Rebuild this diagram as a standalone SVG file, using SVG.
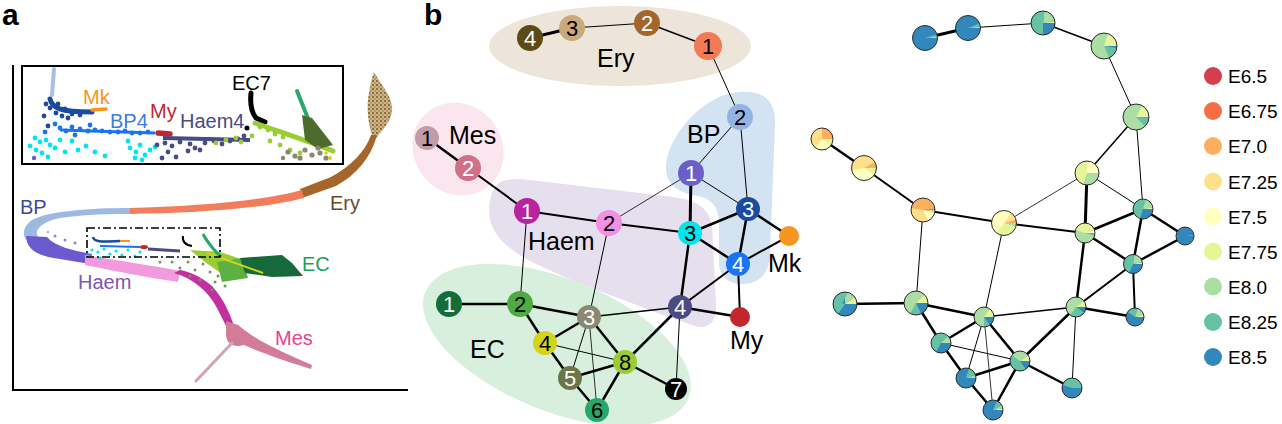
<svg xmlns="http://www.w3.org/2000/svg" width="1282" height="424" viewBox="0 0 1282 424">
<defs>
<style>
text{font-family:"Liberation Sans",Arial,sans-serif}
.pl{font-size:30px;font-weight:bold;fill:#000}
.al{font-size:20px}
.bl{font-size:25px;fill:#000}
.nt{font-size:22px;text-anchor:middle}
.wt{fill:#fff}
.bk{fill:#000}
.lg{font-size:19px;fill:#000}
.w{fill:none}
.ol{fill:none;stroke:#2a2a2a;stroke-width:1}
.s675{stroke:#f46d43}.s70{stroke:#fdae61}.s725{stroke:#fee08b}.s75{stroke:#ffffbf}.s775{stroke:#e6f598}.s80{stroke:#abdda4}.s825{stroke:#66c2a5}.s85{stroke:#3288bd}
.f65{fill:#d53e4f}.f675{fill:#f46d43}.f70{fill:#fdae61}.f725{fill:#fee08b}.f75{fill:#ffffbf}.f775{fill:#e6f598}.f80{fill:#abdda4}.f825{fill:#66c2a5}.f85{fill:#3288bd}
.edges line{stroke:#000;stroke-linecap:round}
</style>
<pattern id="speck" width="4" height="4" patternUnits="userSpaceOnUse">
<rect width="4" height="4" fill="#d2b587"/>
<circle cx="1" cy="1" r="1" fill="#6b5a2e"/>
<circle cx="3" cy="3" r="0.7" fill="#7a6634"/>
</pattern>
</defs>
<rect width="1282" height="424" fill="#fff"/>

<!-- ===== Panel a ===== -->
<g id="panel-a">
<text class="pl" x="2" y="25">a</text>
<line x1="13" y1="65" x2="13" y2="391" stroke="#000" stroke-width="2"/>
<line x1="12" y1="390" x2="408" y2="390" stroke="#000" stroke-width="2"/>
<!-- Ery leaf -->
<path d="M374,72 C381,85 394,98 392,112 C390,124 380,132 374,141 C368,126 366,106 369,93 C370,85 372,78 374,72 Z" fill="url(#speck)"/>
<!-- brown band -->
<path d="M377,135 L371,135 C365,152 351,166 331,177 L300,189 L302,198 L336,186 C356,175 371,158 377,135 Z" fill="#a6662b"/>
<!-- orange band -->
<path d="M302,190 C262,201 200,206 128,208 L128,214 C200,213 266,208 304,198 Z" fill="#f27d5d"/>
<!-- light blue arc -->
<path d="M130,208 C90,208 48,211 32,220 C22,227 22,237 28,241 L40,239 C33,233 37,223 60,218 C88,214 110,214 130,214 Z" fill="#9db9e2"/>
<!-- purple lower band -->
<path d="M26,236 C27,250 37,256 60,259 L90,264 L92,254 C70,250 55,246 47,237 Z" fill="#6a5acd"/>
<circle cx="55" cy="236" r="1.5" fill="#8f86d8"/><circle cx="65" cy="240" r="1.5" fill="#8f86d8"/><circle cx="75" cy="243" r="1.5" fill="#8f86d8"/><circle cx="48" cy="232" r="1.2" fill="#b0a8e0"/>
<!-- Haem pink -->
<path d="M85,255 C120,261 150,265 180,271 L178,282 C150,278 115,271 85,265 Z" fill="#f29ade"/>
<!-- magenta -->
<path d="M174,273 C194,279 208,291 217,308 C223,320 228,329 230,335 L236,333 C232,318 225,300 212,286 C200,276 190,272 180,270 Z" fill="#c2309f"/>
<!-- Mes -->
<path d="M226,321 L238,325 C255,340 282,352 312,365 L311,369 C282,360 260,352 244,345 C234,348 226,344 226,334 Z" fill="#d27c98"/>
<line x1="232" y1="343" x2="196" y2="381" stroke="#d4a3b3" stroke-width="3" stroke-linecap="round"/>
<!-- grey/green speckle region -->
<g fill="#8a8872">
<circle cx="172" cy="262" r="1.5"/><circle cx="180" cy="268" r="1.5"/><circle cx="188" cy="262" r="1.5"/><circle cx="195" cy="270" r="1.5"/><circle cx="203" cy="264" r="1.5"/><circle cx="210" cy="272" r="1.5"/><circle cx="200" cy="280" r="1.5"/><circle cx="215" cy="282" r="1.5"/><circle cx="190" cy="276" r="1.5"/><circle cx="222" cy="268" r="1.5"/><circle cx="160" cy="262" r="1.5"/><circle cx="206" cy="258" r="1.5"/>
</g>
<g fill="#4eab42">
<circle cx="218" cy="276" r="1.5"/><circle cx="225" cy="286" r="1.5"/><circle cx="212" cy="290" r="1.3"/><circle cx="228" cy="276" r="1.5"/><circle cx="232" cy="268" r="1.5"/>
</g>
<!-- EC -->
<path d="M190,250 L220,252 L250,262 L246,272 L222,274 L205,262 Z" fill="#9acd32"/>
<path d="M217,262 L243,258 L248,278 L222,282 Z" fill="#5fb043"/>
<path d="M240,258 L282,255 L292,263 L303,276 L272,277 L245,273 Z" fill="#17683a"/>
<line x1="207" y1="253" x2="263" y2="273" stroke="#d4d41a" stroke-width="2"/>
<!-- inside dashed box -->
<path d="M93,237 C94,242 100,242 120,241" stroke="#1b4a9e" stroke-width="2.5" fill="none"/>
<line x1="120" y1="241" x2="130" y2="241" stroke="#f7941d" stroke-width="2"/>
<g fill="#00e5ee">
<circle cx="92" cy="250" r="1.6"/><circle cx="98" cy="252" r="1.6"/><circle cx="104" cy="249" r="1.6"/><circle cx="110" cy="254" r="1.6"/><circle cx="116" cy="251" r="1.6"/><circle cx="122" cy="255" r="1.6"/><circle cx="128" cy="250" r="1.6"/><circle cx="135" cy="256" r="1.6"/><circle cx="140" cy="252" r="1.6"/><circle cx="100" cy="258" r="1.6"/><circle cx="88" cy="256" r="1.6"/>
</g>
<line x1="100" y1="246" x2="140" y2="247" stroke="#1a74f2" stroke-width="2"/>
<ellipse cx="144" cy="247" rx="4" ry="2" fill="#c1272d"/>
<line x1="148" y1="249" x2="180" y2="251" stroke="#4b4a82" stroke-width="3"/>
<path d="M183,236 C182,241 185,245 192,246" stroke="#000" stroke-width="2" fill="none"/>
<path d="M203,234 C207,242 214,250 221,257" stroke="#27a86b" stroke-width="3" fill="none"/>
<rect x="87" y="228" width="133" height="29" fill="none" stroke="#000" stroke-width="1.6" stroke-dasharray="8 3 2 3"/>
<!-- labels -->
<text class="al" x="20" y="214" fill="#3b4aa0">BP</text>
<text class="al" x="330" y="210" fill="#6b4a2a">Ery</text>
<text class="al" x="302" y="271" fill="#1aa060">EC</text>
<text class="al" x="78" y="289" fill="#7e57b0">Haem</text>
<text class="al" x="275" y="345" fill="#ee3d8b">Mes</text>
<!-- inset -->
<rect x="22" y="66" width="321" height="98" fill="#fff" stroke="#000" stroke-width="2"/>
<line x1="54" y1="69" x2="52" y2="95" stroke="#a8c0e6" stroke-width="4" stroke-linecap="round"/>
<path d="M50,99 C52,108 60,112 92,112" stroke="#1b4a9e" stroke-width="5" fill="none" stroke-linecap="round"/>
<g fill="#1b4a9e">
<circle cx="46" cy="104" r="2.4"/><circle cx="50" cy="108" r="2.4"/><circle cx="56" cy="113" r="2.4"/><circle cx="62" cy="116" r="2.4"/><circle cx="68" cy="118" r="2.4"/><circle cx="72" cy="114" r="2.4"/><circle cx="80" cy="115" r="2.4"/><circle cx="58" cy="104" r="2.4"/><circle cx="44" cy="116" r="2.4"/><circle cx="65" cy="109" r="2.4"/><circle cx="48" cy="126" r="2.4"/>
</g>
<line x1="92" y1="110" x2="106" y2="109" stroke="#f7941d" stroke-width="3.5" stroke-linecap="round"/>
<line x1="60" y1="130" x2="155" y2="133" stroke="#1a74f2" stroke-width="3"/>
<g fill="#1a74f2">
<circle cx="60" cy="128" r="2.4"/><circle cx="66" cy="131" r="2.4"/><circle cx="72" cy="127" r="2.4"/><circle cx="80" cy="129" r="2.4"/><circle cx="88" cy="131" r="2.4"/><circle cx="95" cy="130" r="2.4"/><circle cx="102" cy="131" r="2.4"/><circle cx="110" cy="132" r="2.4"/><circle cx="118" cy="132" r="2.4"/><circle cx="125" cy="131" r="2.4"/><circle cx="132" cy="133" r="2.4"/><circle cx="140" cy="133" r="2.4"/><circle cx="148" cy="132" r="2.4"/><circle cx="75" cy="135" r="2.4"/><circle cx="45" cy="132" r="2.4"/><circle cx="90" cy="125" r="2.4"/><circle cx="55" cy="124" r="2.4"/>
</g>
<g fill="#00e5ee">
<circle cx="35" cy="138" r="2.4"/><circle cx="40" cy="142" r="2.4"/><circle cx="46" cy="140" r="2.4"/><circle cx="50" cy="145" r="2.4"/><circle cx="36" cy="150" r="2.4"/><circle cx="42" cy="153" r="2.4"/><circle cx="55" cy="148" r="2.4"/><circle cx="60" cy="140" r="2.4"/><circle cx="30" cy="146" r="2.4"/><circle cx="48" cy="157" r="2.4"/><circle cx="65" cy="152" r="2.4"/><circle cx="72" cy="141" r="2.4"/><circle cx="78" cy="150" r="2.4"/><circle cx="130" cy="148" r="2.4"/><circle cx="136" cy="152" r="2.4"/><circle cx="140" cy="145" r="2.4"/><circle cx="145" cy="155" r="2.4"/><circle cx="150" cy="150" r="2.4"/><circle cx="135" cy="158" r="2.4"/><circle cx="142" cy="160" r="2.4"/><circle cx="155" cy="147" r="2.4"/><circle cx="95" cy="152" r="2.4"/><circle cx="105" cy="156" r="2.4"/><circle cx="86" cy="146" r="2.4"/><circle cx="128" cy="141" r="2.4"/>
</g>
<circle cx="34" cy="158" r="2.2" fill="#6a5acd"/>
<line x1="158" y1="133" x2="170" y2="134" stroke="#c1272d" stroke-width="5.5" stroke-linecap="round"/>
<line x1="163" y1="138" x2="250" y2="140" stroke="#4b4a82" stroke-width="4"/>
<g fill="#4b4a82">
<circle cx="165" cy="143" r="2.4"/><circle cx="172" cy="146" r="2.4"/><circle cx="180" cy="142" r="2.4"/><circle cx="190" cy="144" r="2.4"/><circle cx="195" cy="148" r="2.4"/><circle cx="205" cy="143" r="2.4"/><circle cx="214" cy="141" r="2.4"/><circle cx="222" cy="144" r="2.4"/><circle cx="230" cy="141" r="2.4"/><circle cx="238" cy="139" r="2.4"/><circle cx="244" cy="136" r="2.4"/><circle cx="168" cy="152" r="2.4"/><circle cx="176" cy="157" r="2.4"/><circle cx="188" cy="151" r="2.4"/><circle cx="200" cy="150" r="2.4"/><circle cx="157" cy="145" r="2.4"/><circle cx="162" cy="158" r="2.4"/>
</g>
<path d="M251,93 C250,103 252,113 256,118 L265,122" stroke="#000" stroke-width="5" fill="none" stroke-linecap="round"/>
<circle cx="247" cy="128" r="2.5" fill="#000"/>
<path d="M255,123 C280,132 305,140 333,151" stroke="#9acd32" stroke-width="5" fill="none" stroke-linecap="round"/>
<g fill="#9acd32">
<circle cx="260" cy="127" r="2.4"/><circle cx="268" cy="130" r="2.4"/><circle cx="275" cy="134" r="2.4"/><circle cx="283" cy="137" r="2.4"/><circle cx="236" cy="138" r="2.4"/><circle cx="241" cy="142" r="2.4"/><circle cx="226" cy="140" r="2.4"/><circle cx="216" cy="143" r="2.4"/><circle cx="280" cy="145" r="2.4"/><circle cx="290" cy="150" r="2.4"/><circle cx="300" cy="153" r="2.4"/><circle cx="270" cy="141" r="2.4"/><circle cx="252" cy="136" r="2.4"/><circle cx="316" cy="139" r="2.4"/><circle cx="325" cy="143" r="2.4"/>
</g>
<line x1="297" y1="91" x2="311" y2="126" stroke="#2aa86a" stroke-width="4" stroke-linecap="round"/>
<path d="M302,115 L312,118 L333,145 L318,149 L305,140 Z" fill="#4f6b2c"/>
<g fill="#8a8872">
<circle cx="288" cy="152" r="2.6"/><circle cx="295" cy="156" r="2.6"/><circle cx="305" cy="150" r="2.6"/><circle cx="312" cy="155" r="2.6"/><circle cx="320" cy="153" r="2.6"/><circle cx="326" cy="158" r="2.6"/><circle cx="300" cy="158" r="2.6"/><circle cx="283" cy="158" r="2.2"/><circle cx="318" cy="148" r="2.6"/>
</g>
<circle cx="330" cy="158" r="2" fill="#d3d31c"/><circle cx="326" cy="153" r="1.8" fill="#d3d31c"/>
<text class="al" x="83" y="104" fill="#f7941d">Mk</text>
<text class="al" x="110" y="128" fill="#3b7be3">BP4</text>
<text class="al" x="150" y="118" fill="#c1272d">My</text>
<text class="al" x="180" y="128" fill="#4b4a82">Haem4</text>
<text class="al" x="232" y="90" fill="#000">EC7</text>
</g>

<!-- ===== Panel b ===== -->
<text class="pl" x="424" y="25">b</text>
<g id="regions-b">
<ellipse id="reg-ery" cx="620" cy="46" rx="131" ry="40" fill="#ede4da"/>
<ellipse id="reg-mes" cx="458" cy="149" rx="48" ry="44" transform="rotate(50 458 149)" fill="#fbe5ee"/>
<path id="reg-haem" d="M495,188 C500,178 515,178 530,180 L665,196 C690,199 708,203 712,225 L716,305 C717,322 708,330 695,326 L660,314 C620,298 580,285 545,268 C515,255 495,240 490,220 C488,205 490,195 495,188 Z" fill="#e6dfee"/>
<path id="reg-bp" d="M740,92 C765,90 776,102 775,125 L770,255 C769,275 758,284 742,284 C728,284 719,276 719,262 L719,225 C719,208 713,199 698,196 C678,193 666,184 666,168 C667,135 705,93 740,92 Z" fill="#d4e3f1"/>
<ellipse id="reg-ec" cx="557" cy="345" rx="142" ry="66" transform="rotate(22 557 345)" fill="#d7efdc"/>
<text class="bl" x="597" y="67">Ery</text>
<text class="bl" x="449" y="144">Mes</text>
<text class="bl" x="687" y="143">BP</text>
<text class="bl" x="528" y="250">Haem</text>
<text class="bl" x="768" y="272">Mk</text>
<text class="bl" x="730" y="349">My</text>
<text class="bl" x="470" y="358">EC</text>
</g>
<g id="edges-b" class="edges">
<line x1="530" y1="38" x2="572" y2="28" stroke-width="3"/>
<line x1="572" y1="28" x2="647" y2="23" stroke-width="1"/>
<line x1="647" y1="23" x2="708" y2="46" stroke-width="1.5"/>
<line x1="708" y1="46" x2="740" y2="117" stroke-width="1"/>
<line x1="740" y1="117" x2="691" y2="173" stroke-width="1"/>
<line x1="740" y1="117" x2="748" y2="209" stroke-width="1"/>
<line x1="691" y1="173" x2="748" y2="209" stroke-width="1"/>
<line x1="691" y1="173" x2="690" y2="233" stroke-width="3"/>
<line x1="691" y1="173" x2="609" y2="223" stroke-width="0.8"/>
<line x1="427" y1="138" x2="468" y2="168" stroke-width="2.5"/>
<line x1="468" y1="168" x2="527" y2="211" stroke-width="2"/>
<line x1="527" y1="211" x2="609" y2="223" stroke-width="2"/>
<line x1="527" y1="211" x2="520" y2="304" stroke-width="1"/>
<line x1="609" y1="223" x2="690" y2="233" stroke-width="2"/>
<line x1="609" y1="223" x2="589" y2="317" stroke-width="1"/>
<line x1="690" y1="233" x2="748" y2="209" stroke-width="2.5"/>
<line x1="690" y1="233" x2="738" y2="264" stroke-width="2.5"/>
<line x1="690" y1="233" x2="680" y2="307" stroke-width="2.5"/>
<line x1="748" y1="209" x2="738" y2="264" stroke-width="2.5"/>
<line x1="748" y1="209" x2="789" y2="236" stroke-width="2.5"/>
<line x1="738" y1="264" x2="789" y2="236" stroke-width="2"/>
<line x1="738" y1="264" x2="740" y2="317" stroke-width="2"/>
<line x1="738" y1="264" x2="680" y2="307" stroke-width="2"/>
<line x1="680" y1="307" x2="740" y2="317" stroke-width="2.5"/>
<line x1="680" y1="307" x2="589" y2="317" stroke-width="1.5"/>
<line x1="680" y1="307" x2="625" y2="362" stroke-width="2.5"/>
<line x1="680" y1="307" x2="676" y2="389" stroke-width="1"/>
<line x1="449" y1="304" x2="520" y2="304" stroke-width="2.5"/>
<line x1="520" y1="304" x2="589" y2="317" stroke-width="2.5"/>
<line x1="520" y1="304" x2="545" y2="343" stroke-width="2.5"/>
<line x1="589" y1="317" x2="545" y2="343" stroke-width="2.5"/>
<line x1="589" y1="317" x2="625" y2="362" stroke-width="2.5"/>
<line x1="589" y1="317" x2="570" y2="378" stroke-width="1"/>
<line x1="589" y1="317" x2="597" y2="410" stroke-width="0.8"/>
<line x1="545" y1="343" x2="625" y2="362" stroke-width="1"/>
<line x1="545" y1="343" x2="570" y2="378" stroke-width="2.5"/>
<line x1="570" y1="378" x2="625" y2="362" stroke-width="2.5"/>
<line x1="570" y1="378" x2="597" y2="410" stroke-width="2.5"/>
<line x1="597" y1="410" x2="625" y2="362" stroke-width="2.5"/>
<line x1="625" y1="362" x2="676" y2="389" stroke-width="2.5"/>
</g>
<g id="nodes-b">
<g id="b-ery4"><circle cx="530" cy="38" r="13" fill="#5c4a18"/><text class="nt wt" x="530" y="46">4</text></g>
<g id="b-ery3"><circle cx="572" cy="28" r="13" fill="#c9a87a"/><text class="nt bk" x="572" y="36">3</text></g>
<g id="b-ery2"><circle cx="647" cy="23" r="13" fill="#a3662b"/><text class="nt wt" x="647" y="31">2</text></g>
<g id="b-ery1"><circle cx="708" cy="46" r="14" fill="#f47a55"/><text class="nt bk" x="708" y="54">1</text></g>
<g id="b-bp2"><circle cx="740" cy="117" r="13" fill="#93b4e3"/><text class="nt bk" x="740" y="125">2</text></g>
<g id="b-bp1"><circle cx="691" cy="173" r="13" fill="#6a5fc9"/><text class="nt wt" x="691" y="181">1</text></g>
<g id="b-bp3"><circle cx="748" cy="209" r="12" fill="#1b4a9e"/><text class="nt wt" x="748" y="217">3</text></g>
<g id="b-bp4"><circle cx="738" cy="264" r="12" fill="#1a74f2"/><text class="nt wt" x="738" y="272">4</text></g>
<g id="b-mes1"><circle cx="427" cy="138" r="12" fill="#c29ba8"/><text class="nt bk" x="427" y="146">1</text></g>
<g id="b-mes2"><circle cx="468" cy="168" r="13" fill="#cf6f88"/><text class="nt wt" x="468" y="176">2</text></g>
<g id="b-haem1"><circle cx="527" cy="211" r="13" fill="#b8239f"/><text class="nt wt" x="527" y="219">1</text></g>
<g id="b-haem2"><circle cx="609" cy="223" r="13" fill="#f190e4"/><text class="nt bk" x="609" y="231">2</text></g>
<g id="b-haem3"><circle cx="690" cy="233" r="12" fill="#00e6ef"/><text class="nt bk" x="690" y="241">3</text></g>
<g id="b-haem4"><circle cx="680" cy="307" r="12" fill="#4b4a82"/><text class="nt wt" x="680" y="315">4</text></g>
<g id="b-mk"><circle cx="789" cy="236" r="10" fill="#f7941d"/></g>
<g id="b-my"><circle cx="740" cy="317" r="10" fill="#c1272d"/></g>
<g id="b-ec1"><circle cx="449" cy="304" r="13" fill="#146c3a"/><text class="nt wt" x="449" y="312">1</text></g>
<g id="b-ec2"><circle cx="520" cy="304" r="13" fill="#4eab42"/><text class="nt bk" x="520" y="312">2</text></g>
<g id="b-ec3"><circle cx="589" cy="317" r="12" fill="#8a8872"/><text class="nt wt" x="589" y="325">3</text></g>
<g id="b-ec4"><circle cx="545" cy="343" r="12" fill="#d3d31c"/><text class="nt bk" x="545" y="351">4</text></g>
<g id="b-ec5"><circle cx="570" cy="378" r="12" fill="#6c7548"/><text class="nt wt" x="570" y="386">5</text></g>
<g id="b-ec6"><circle cx="597" cy="410" r="12" fill="#27a86b"/><text class="nt bk" x="597" y="418">6</text></g>
<g id="b-ec7"><circle cx="676" cy="389" r="11" fill="#000"/><text class="nt wt" x="676" y="397">7</text></g>
<g id="b-ec8"><circle cx="625" cy="362" r="12" fill="#9acd32"/><text class="nt bk" x="625" y="370">8</text></g>
</g>

<!-- ===== Panel c ===== -->
<g id="edges-c" class="edges">
<line x1="925" y1="38" x2="968" y2="28" stroke-width="3"/>
<line x1="968" y1="28" x2="1043" y2="23" stroke-width="1"/>
<line x1="1043" y1="23" x2="1104" y2="46" stroke-width="1.5"/>
<line x1="1104" y1="46" x2="1136" y2="117" stroke-width="1"/>
<line x1="1136" y1="117" x2="1087" y2="173" stroke-width="1.5"/>
<line x1="1136" y1="117" x2="1143" y2="209" stroke-width="1"/>
<line x1="1087" y1="173" x2="1143" y2="209" stroke-width="1"/>
<line x1="1087" y1="173" x2="1085" y2="233" stroke-width="3"/>
<line x1="1087" y1="173" x2="1004" y2="223" stroke-width="0.8"/>
<line x1="822" y1="139" x2="864" y2="168" stroke-width="2.5"/>
<line x1="864" y1="168" x2="923" y2="210" stroke-width="2"/>
<line x1="923" y1="210" x2="1004" y2="223" stroke-width="2"/>
<line x1="923" y1="210" x2="916" y2="303" stroke-width="1"/>
<line x1="1004" y1="223" x2="1085" y2="233" stroke-width="2"/>
<line x1="1004" y1="223" x2="984" y2="317" stroke-width="1"/>
<line x1="1085" y1="233" x2="1143" y2="209" stroke-width="2.5"/>
<line x1="1085" y1="233" x2="1133" y2="264" stroke-width="2.5"/>
<line x1="1085" y1="233" x2="1076" y2="307" stroke-width="2.5"/>
<line x1="1143" y1="209" x2="1133" y2="264" stroke-width="2.5"/>
<line x1="1143" y1="209" x2="1185" y2="236" stroke-width="2.5"/>
<line x1="1133" y1="264" x2="1185" y2="236" stroke-width="2.5"/>
<line x1="1133" y1="264" x2="1135" y2="317" stroke-width="2"/>
<line x1="1133" y1="264" x2="1076" y2="307" stroke-width="2"/>
<line x1="1076" y1="307" x2="1135" y2="317" stroke-width="2.5"/>
<line x1="1076" y1="307" x2="984" y2="317" stroke-width="1.5"/>
<line x1="1076" y1="307" x2="1020" y2="361" stroke-width="2.5"/>
<line x1="1076" y1="307" x2="1072" y2="388" stroke-width="1"/>
<line x1="845" y1="304" x2="916" y2="303" stroke-width="2.5"/>
<line x1="916" y1="303" x2="984" y2="317" stroke-width="2.5"/>
<line x1="916" y1="303" x2="941" y2="343" stroke-width="2.5"/>
<line x1="984" y1="317" x2="941" y2="343" stroke-width="2.5"/>
<line x1="984" y1="317" x2="1020" y2="361" stroke-width="2.5"/>
<line x1="984" y1="317" x2="966" y2="378" stroke-width="1"/>
<line x1="984" y1="317" x2="993" y2="410" stroke-width="0.8"/>
<line x1="941" y1="343" x2="1020" y2="361" stroke-width="1"/>
<line x1="941" y1="343" x2="966" y2="378" stroke-width="2.5"/>
<line x1="966" y1="378" x2="1020" y2="361" stroke-width="2.5"/>
<line x1="966" y1="378" x2="993" y2="410" stroke-width="2.5"/>
<line x1="993" y1="410" x2="1020" y2="361" stroke-width="2.5"/>
<line x1="1020" y1="361" x2="1072" y2="388" stroke-width="2.5"/>
</g>
<g id="nodes-c">
<g id="c-ery4" transform="translate(925,38) scale(1,-1)"><circle r="12.5" class="f85"/><circle r="6.25" stroke-width="12.5" class="w s80" pathLength="100" stroke-dasharray="2 100" stroke-dashoffset="0"/><circle r="6.25" stroke-width="12.5" class="w s825" pathLength="100" stroke-dasharray="3 100" stroke-dashoffset="-2"/><circle r="12.5" class="ol"/></g>
<g id="c-ery3" transform="translate(968,28) scale(1,-1)"><circle r="12.5" class="f85"/><circle r="6.25" stroke-width="12.5" class="w s80" pathLength="100" stroke-dasharray="2 100" stroke-dashoffset="0"/><circle r="6.25" stroke-width="12.5" class="w s825" pathLength="100" stroke-dasharray="4 100" stroke-dashoffset="-2"/><circle r="12.5" class="ol"/></g>
<g id="c-ery2" transform="translate(1043,23) scale(1,-1)"><circle r="12" class="f85"/><circle r="6" stroke-width="12" class="w s775" pathLength="100" stroke-dasharray="3 100" stroke-dashoffset="0"/><circle r="6" stroke-width="12" class="w s80" pathLength="100" stroke-dasharray="20 100" stroke-dashoffset="-3"/><circle r="6" stroke-width="12" class="w s825" pathLength="100" stroke-dasharray="52 100" stroke-dashoffset="-23"/><circle r="12" class="ol"/></g>
<g id="c-ery1" transform="translate(1104,46) scale(1,-1)"><circle r="13" class="f80"/><circle r="6.5" stroke-width="13" class="w s775" pathLength="100" stroke-dasharray="20 100" stroke-dashoffset="0"/><circle r="6.5" stroke-width="13" class="w s825" pathLength="100" stroke-dasharray="15 100" stroke-dashoffset="-82"/><circle r="6.5" stroke-width="13" class="w s85" pathLength="100" stroke-dasharray="3 100" stroke-dashoffset="-97"/><circle r="13" class="ol"/></g>
<g id="c-bp2" transform="translate(1136,117) scale(1,-1)"><circle r="13" class="f80"/><circle r="6.5" stroke-width="13" class="w s75" pathLength="100" stroke-dasharray="2 100" stroke-dashoffset="0"/><circle r="6.5" stroke-width="13" class="w s775" pathLength="100" stroke-dasharray="15 100" stroke-dashoffset="-2"/><circle r="6.5" stroke-width="13" class="w s825" pathLength="100" stroke-dasharray="12 100" stroke-dashoffset="-87"/><circle r="6.5" stroke-width="13" class="w s85" pathLength="100" stroke-dasharray="1 100" stroke-dashoffset="-99"/><circle r="13" class="ol"/></g>
<g id="c-bp1" transform="translate(1087,173) scale(1,-1)"><circle r="12" class="f775"/><circle r="6" stroke-width="12" class="w s75" pathLength="100" stroke-dasharray="25 100" stroke-dashoffset="0"/><circle r="6" stroke-width="12" class="w s80" pathLength="100" stroke-dasharray="30 100" stroke-dashoffset="-70"/><circle r="12" class="ol"/></g>
<g id="c-bp3" transform="translate(1143,209) scale(1,-1)"><circle r="10" class="f825"/><circle r="5" stroke-width="10" class="w s775" pathLength="100" stroke-dasharray="3 100" stroke-dashoffset="0"/><circle r="5" stroke-width="10" class="w s80" pathLength="100" stroke-dasharray="17 100" stroke-dashoffset="-3"/><circle r="5" stroke-width="10" class="w s85" pathLength="100" stroke-dasharray="30 100" stroke-dashoffset="-70"/><circle r="10" class="ol"/></g>
<g id="c-bp4" transform="translate(1133,264) scale(1,-1)"><circle r="9.5" class="f85"/><circle r="4.75" stroke-width="9.5" class="w s775" pathLength="100" stroke-dasharray="3 100" stroke-dashoffset="0"/><circle r="4.75" stroke-width="9.5" class="w s80" pathLength="100" stroke-dasharray="20 100" stroke-dashoffset="-3"/><circle r="4.75" stroke-width="9.5" class="w s825" pathLength="100" stroke-dasharray="45 100" stroke-dashoffset="-23"/><circle r="9.5" class="ol"/></g>
<g id="c-mes1" transform="translate(822,139) scale(1,-1)"><circle r="11" class="f725"/><circle r="5.5" stroke-width="11" class="w s70" pathLength="100" stroke-dasharray="25 100" stroke-dashoffset="0"/><circle r="5.5" stroke-width="11" class="w s75" pathLength="100" stroke-dasharray="25 100" stroke-dashoffset="-65"/><circle r="5.5" stroke-width="11" class="w s775" pathLength="100" stroke-dasharray="10 100" stroke-dashoffset="-90"/><circle r="11" class="ol"/></g>
<g id="c-mes2" transform="translate(864,168) scale(1,-1)"><circle r="12.5" class="f725"/><circle r="6.25" stroke-width="12.5" class="w s70" pathLength="100" stroke-dasharray="8 100" stroke-dashoffset="0"/><circle r="6.25" stroke-width="12.5" class="w s75" pathLength="100" stroke-dasharray="38 100" stroke-dashoffset="-53"/><circle r="6.25" stroke-width="12.5" class="w s775" pathLength="100" stroke-dasharray="9 100" stroke-dashoffset="-91"/><circle r="12.5" class="ol"/></g>
<g id="c-haem1" transform="translate(923,210) scale(1,-1)"><circle r="12" class="f70"/><circle r="6" stroke-width="12" class="w s675" pathLength="100" stroke-dasharray="2 100" stroke-dashoffset="0"/><circle r="6" stroke-width="12" class="w s725" pathLength="100" stroke-dasharray="35 100" stroke-dashoffset="-47"/><circle r="6" stroke-width="12" class="w s75" pathLength="100" stroke-dasharray="13 100" stroke-dashoffset="-82"/><circle r="6" stroke-width="12" class="w s775" pathLength="100" stroke-dasharray="3 100" stroke-dashoffset="-95"/><circle r="6" stroke-width="12" class="w s80" pathLength="100" stroke-dasharray="2 100" stroke-dashoffset="-98"/><circle r="12" class="ol"/></g>
<g id="c-haem2" transform="translate(1004,223) scale(1,-1)"><circle r="12.5" class="f75"/><circle r="6.25" stroke-width="12.5" class="w s70" pathLength="100" stroke-dasharray="5 100" stroke-dashoffset="0"/><circle r="6.25" stroke-width="12.5" class="w s725" pathLength="100" stroke-dasharray="10 100" stroke-dashoffset="-5"/><circle r="6.25" stroke-width="12.5" class="w s775" pathLength="100" stroke-dasharray="30 100" stroke-dashoffset="-65"/><circle r="6.25" stroke-width="12.5" class="w s80" pathLength="100" stroke-dasharray="5 100" stroke-dashoffset="-95"/><circle r="12.5" class="ol"/></g>
<g id="c-haem3" transform="translate(1085,233) scale(1,-1)"><circle r="10" class="f80"/><circle r="5" stroke-width="10" class="w s75" pathLength="100" stroke-dasharray="5 100" stroke-dashoffset="0"/><circle r="5" stroke-width="10" class="w s775" pathLength="100" stroke-dasharray="40 100" stroke-dashoffset="-5"/><circle r="5" stroke-width="10" class="w s825" pathLength="100" stroke-dasharray="4 100" stroke-dashoffset="-95"/><circle r="5" stroke-width="10" class="w s85" pathLength="100" stroke-dasharray="1 100" stroke-dashoffset="-99"/><circle r="10" class="ol"/></g>
<g id="c-haem4" transform="translate(1076,307) scale(1,-1)"><circle r="10" class="f80"/><circle r="5" stroke-width="10" class="w s775" pathLength="100" stroke-dasharray="10 100" stroke-dashoffset="0"/><circle r="5" stroke-width="10" class="w s825" pathLength="100" stroke-dasharray="25 100" stroke-dashoffset="-65"/><circle r="5" stroke-width="10" class="w s85" pathLength="100" stroke-dasharray="10 100" stroke-dashoffset="-90"/><circle r="10" class="ol"/></g>
<g id="c-mk" transform="translate(1185,236) scale(1,-1)"><circle r="9" class="f85"/><circle r="4.5" stroke-width="9" class="w s825" pathLength="100" stroke-dasharray="2 100" stroke-dashoffset="0"/><circle r="9" class="ol"/></g>
<g id="c-my" transform="translate(1135,317) scale(1,-1)"><circle r="9" class="f85"/><circle r="4.5" stroke-width="9" class="w s775" pathLength="100" stroke-dasharray="5 100" stroke-dashoffset="0"/><circle r="4.5" stroke-width="9" class="w s80" pathLength="100" stroke-dasharray="15 100" stroke-dashoffset="-5"/><circle r="4.5" stroke-width="9" class="w s825" pathLength="100" stroke-dasharray="20 100" stroke-dashoffset="-20"/><circle r="9" class="ol"/></g>
<g id="c-ec1" transform="translate(845,304) scale(1,-1)"><circle r="12" class="f85"/><circle r="6" stroke-width="12" class="w s775" pathLength="100" stroke-dasharray="10 100" stroke-dashoffset="0"/><circle r="6" stroke-width="12" class="w s80" pathLength="100" stroke-dasharray="15 100" stroke-dashoffset="-10"/><circle r="6" stroke-width="12" class="w s825" pathLength="100" stroke-dasharray="40 100" stroke-dashoffset="-25"/><circle r="12" class="ol"/></g>
<g id="c-ec2" transform="translate(916,303) scale(1,-1)"><circle r="12" class="f80"/><circle r="6" stroke-width="12" class="w s775" pathLength="100" stroke-dasharray="12 100" stroke-dashoffset="0"/><circle r="6" stroke-width="12" class="w s825" pathLength="100" stroke-dasharray="15 100" stroke-dashoffset="-67"/><circle r="6" stroke-width="12" class="w s85" pathLength="100" stroke-dasharray="18 100" stroke-dashoffset="-82"/><circle r="12" class="ol"/></g>
<g id="c-ec3" transform="translate(984,317) scale(1,-1)"><circle r="10" class="f80"/><circle r="5" stroke-width="10" class="w s775" pathLength="100" stroke-dasharray="15 100" stroke-dashoffset="0"/><circle r="5" stroke-width="10" class="w s825" pathLength="100" stroke-dasharray="10 100" stroke-dashoffset="-75"/><circle r="5" stroke-width="10" class="w s85" pathLength="100" stroke-dasharray="15 100" stroke-dashoffset="-85"/><circle r="10" class="ol"/></g>
<g id="c-ec4" transform="translate(941,343) scale(1,-1)"><circle r="10" class="f825"/><circle r="5" stroke-width="10" class="w s80" pathLength="100" stroke-dasharray="12 100" stroke-dashoffset="0"/><circle r="5" stroke-width="10" class="w s85" pathLength="100" stroke-dasharray="33 100" stroke-dashoffset="-67"/><circle r="10" class="ol"/></g>
<g id="c-ec5" transform="translate(966,378) scale(1,-1)"><circle r="10" class="f85"/><circle r="5" stroke-width="10" class="w s80" pathLength="100" stroke-dasharray="5 100" stroke-dashoffset="0"/><circle r="5" stroke-width="10" class="w s825" pathLength="100" stroke-dasharray="15 100" stroke-dashoffset="-5"/><circle r="10" class="ol"/></g>
<g id="c-ec6" transform="translate(993,410) scale(1,-1)"><circle r="10" class="f85"/><circle r="5" stroke-width="10" class="w s775" pathLength="100" stroke-dasharray="3 100" stroke-dashoffset="0"/><circle r="5" stroke-width="10" class="w s80" pathLength="100" stroke-dasharray="5 100" stroke-dashoffset="-3"/><circle r="5" stroke-width="10" class="w s825" pathLength="100" stroke-dasharray="10 100" stroke-dashoffset="-8"/><circle r="10" class="ol"/></g>
<g id="c-ec7" transform="translate(1072,388) scale(1,-1)"><circle r="10" class="f85"/><circle r="5" stroke-width="10" class="w s825" pathLength="100" stroke-dasharray="45 100" stroke-dashoffset="0"/><circle r="10" class="ol"/></g>
<g id="c-ec8" transform="translate(1020,361) scale(1,-1)"><circle r="10" class="f825"/><circle r="5" stroke-width="10" class="w s775" pathLength="100" stroke-dasharray="10 100" stroke-dashoffset="0"/><circle r="5" stroke-width="10" class="w s80" pathLength="100" stroke-dasharray="30 100" stroke-dashoffset="-10"/><circle r="5" stroke-width="10" class="w s85" pathLength="100" stroke-dasharray="15 100" stroke-dashoffset="-85"/><circle r="10" class="ol"/></g>
</g>

<!-- legend -->
<g id="legend">
<circle cx="1213" cy="76" r="9" class="f65"/><text class="lg" x="1228" y="83">E6.5</text>
<circle cx="1213" cy="111" r="9" class="f675"/><text class="lg" x="1228" y="118">E6.75</text>
<circle cx="1213" cy="146" r="9" class="f70"/><text class="lg" x="1228" y="153">E7.0</text>
<circle cx="1213" cy="181.5" r="9" class="f725"/><text class="lg" x="1228" y="188.5">E7.25</text>
<circle cx="1213" cy="216.5" r="9" class="f75"/><text class="lg" x="1228" y="223.5">E7.5</text>
<circle cx="1213" cy="251.5" r="9" class="f775"/><text class="lg" x="1228" y="258.5">E7.75</text>
<circle cx="1213" cy="286.5" r="9" class="f80"/><text class="lg" x="1228" y="293.5">E8.0</text>
<circle cx="1213" cy="322" r="9" class="f825"/><text class="lg" x="1228" y="329">E8.25</text>
<circle cx="1213" cy="357" r="9" class="f85"/><text class="lg" x="1228" y="364">E8.5</text>
</g>
</svg>
